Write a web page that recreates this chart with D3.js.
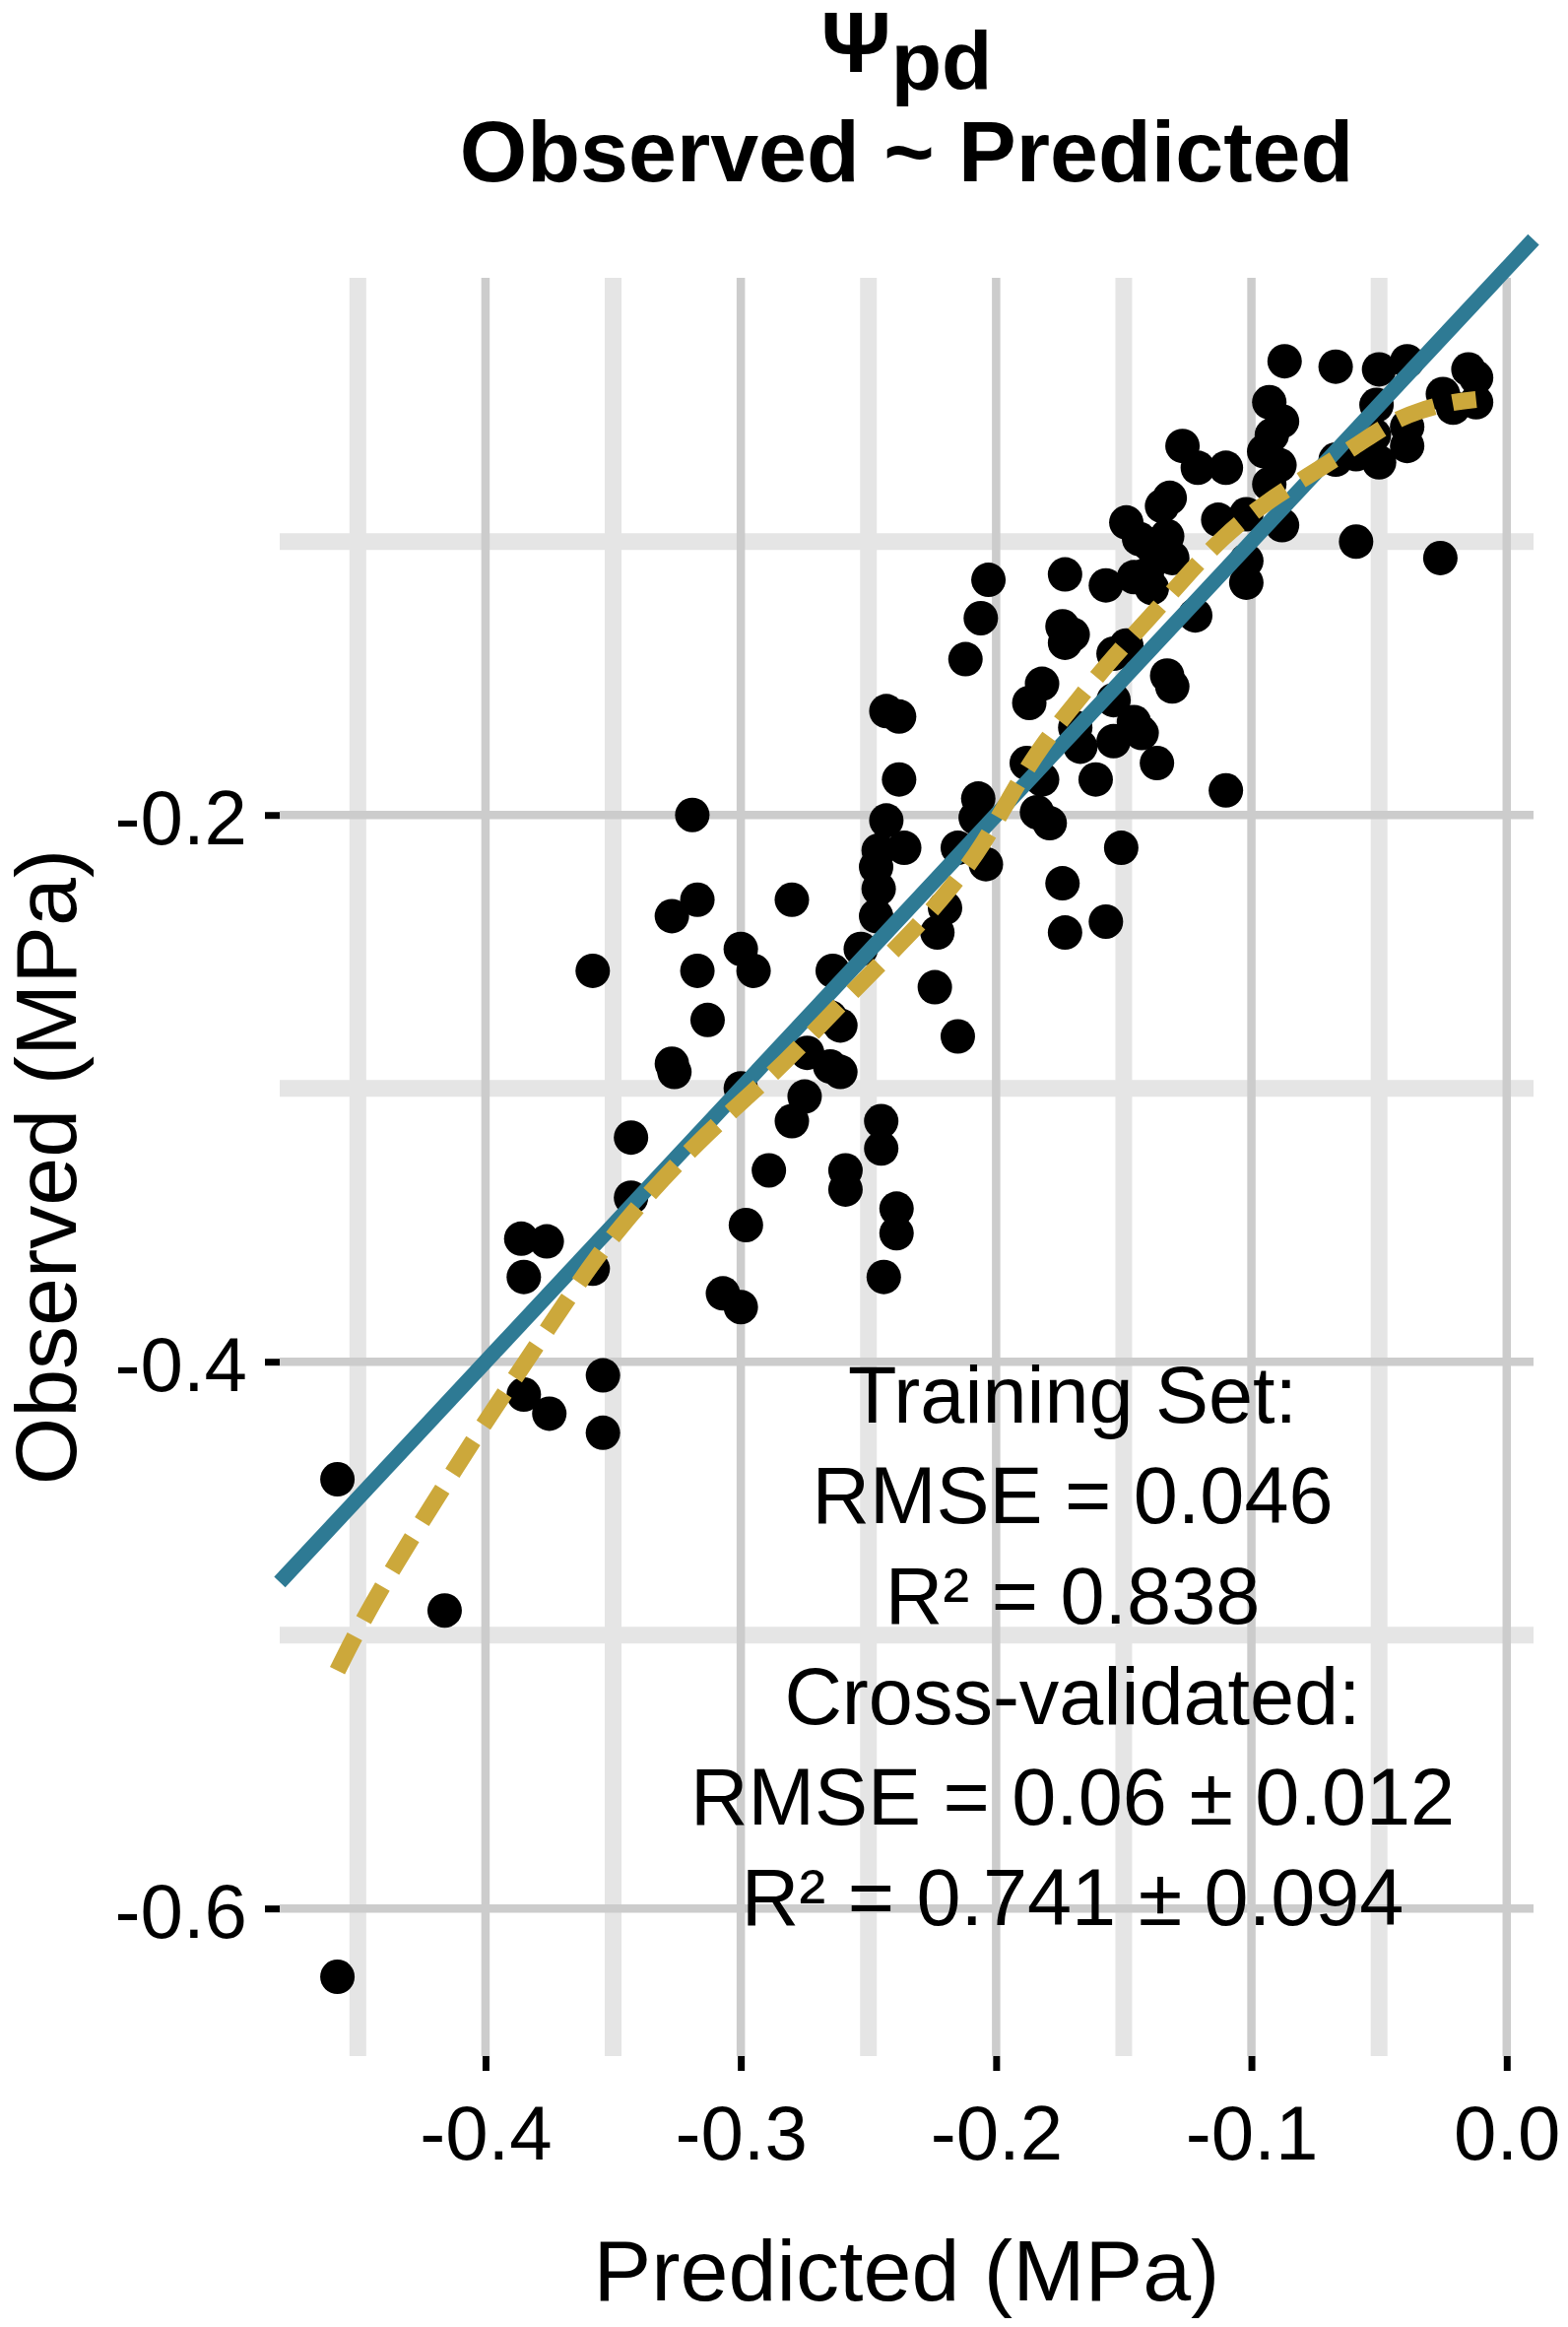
<!DOCTYPE html>
<html>
<head>
<meta charset="utf-8">
<script src="https://cdn.jsdelivr.net/npm/d3@7"></script>
<style>
body { margin: 0; background: #fff; }
text { font-family: "Liberation Sans", Arial, Helvetica, sans-serif; }
</style>
</head>
<body>
<script>
// Observed vs predicted pre-dawn water potential (MPa)
const predicted = [
  -0.087, -0.067, -0.050, -0.039, -0.015, -0.012, -0.025, -0.021, -0.012, -0.093,
  -0.088, -0.051, -0.039, -0.039, -0.050, -0.067, -0.059, -0.052, -0.092, -0.095,
  -0.089, -0.093, -0.127, -0.121, -0.110, -0.132, -0.135, -0.149, -0.144, -0.133,
  -0.137, -0.141, -0.140, -0.131, -0.113, -0.102, -0.088, -0.059, -0.026, -0.102,
  -0.102, -0.203, -0.206, -0.212, -0.173, -0.157, -0.146, -0.139, -0.174, -0.170,
  -0.173, -0.154, -0.149, -0.133, -0.131, -0.122, -0.182, -0.187, -0.154, -0.146,
  -0.143, -0.154, -0.169, -0.167, -0.188, -0.182, -0.161, -0.137, -0.110, -0.207,
  -0.208, -0.184, -0.179, -0.215, -0.204, -0.151, -0.174, -0.173, -0.157, -0.220,
  -0.223,
  -0.243, -0.238, -0.238, -0.243, -0.236, -0.246, -0.247, -0.246, -0.247, -0.253,
  -0.319, -0.317, -0.327, -0.280, -0.300, -0.224, -0.215,
  -0.358, -0.317, -0.295, -0.264, -0.313, -0.327, -0.326, -0.300, -0.274, -0.265,
  -0.261, -0.265, -0.261, -0.275, -0.280, -0.245, -0.245, -0.343, -0.289, -0.259,
  -0.259, -0.343, -0.239, -0.239, -0.298, -0.386, -0.376, -0.385, -0.358, -0.244,
  -0.307, -0.300, -0.354, -0.385, -0.375, -0.354, -0.458, -0.416, -0.458
];
const observed = [
  -0.034, -0.036, -0.037, -0.034, -0.037, -0.040, -0.046, -0.051, -0.049, -0.049,
  -0.056, -0.050, -0.058, -0.065, -0.071, -0.070, -0.068, -0.061, -0.061, -0.067,
  -0.072, -0.079, -0.065, -0.073, -0.073, -0.084, -0.087, -0.093, -0.099, -0.098,
  -0.106, -0.112, -0.101, -0.106, -0.092, -0.090, -0.094, -0.100, -0.106, -0.107,
  -0.115, -0.114, -0.128, -0.143, -0.112, -0.116, -0.113, -0.117, -0.131, -0.134,
  -0.137, -0.141, -0.138, -0.149, -0.153, -0.127, -0.152, -0.159, -0.158, -0.166,
  -0.170, -0.173, -0.168, -0.175, -0.181, -0.187, -0.187, -0.181, -0.191, -0.194,
  -0.201, -0.199, -0.203, -0.212, -0.218, -0.212, -0.225, -0.243, -0.239, -0.234,
  -0.243,
  -0.162, -0.164, -0.187, -0.202, -0.212, -0.213, -0.219, -0.227, -0.237, -0.249,
  -0.200, -0.231, -0.237, -0.231, -0.249, -0.263, -0.281,
  -0.257, -0.257, -0.257, -0.257, -0.275, -0.291, -0.294, -0.300, -0.287, -0.292,
  -0.294, -0.274, -0.277, -0.303, -0.312, -0.312, -0.322, -0.318, -0.330, -0.330,
  -0.337, -0.340, -0.344, -0.353, -0.350, -0.355, -0.356, -0.369, -0.366, -0.369,
  -0.375, -0.380, -0.405, -0.412, -0.419, -0.426, -0.443, -0.491, -0.625
];

// smoothed fit (dashed gold)
const smoothX = [-0.458, -0.443, -0.401, -0.387, -0.365, -0.349, -0.317, -0.286, -0.264, -0.246,
  -0.231, -0.217, -0.205, -0.192, -0.181, -0.168, -0.154, -0.140, -0.126, -0.111,
  -0.095, -0.078, -0.059, -0.045, -0.034, -0.022, -0.012];
const smoothY = [-0.513, -0.485, -0.423, -0.404, -0.373, -0.352, -0.319, -0.294, -0.272, -0.255,
  -0.241, -0.226, -0.211, -0.189, -0.173, -0.158, -0.142, -0.128, -0.113, -0.098,
  -0.086, -0.076, -0.065, -0.056, -0.052, -0.049, -0.048];

const xTicks = [-0.4, -0.3, -0.2, -0.1, 0.0];
const xMinor = [-0.45, -0.35, -0.25, -0.15, -0.05];
const yTicks = [-0.6, -0.4, -0.2];
const yMinor = [-0.5, -0.3, -0.1];

const statLines = ["Training Set:", "RMSE = 0.046", "R\u00B2 = 0.838",
  "Cross-validated:", "RMSE = 0.06 \u00B1 0.012", "R\u00B2 = 0.741 \u00B1 0.094"];

const w = 1592;
const h = 2362;
const pLeft = 284, pRight = 1557, pTop = 282, pBottom = 2087;

var x = d3.scaleLinear().domain([-0.4806, 0.0105]).range([pLeft, pRight]);
var y = d3.scaleLinear().domain([-0.654, -0.0035]).range([pBottom, pTop]);

var svg = d3.select("body")
    .append("svg")
    .attr("width", w)
    .attr("height", h);

svg.append("rect").attr("width", w).attr("height", h).attr("fill", "#fff");

// grid: minor first (wide, light), then major
var grid = svg.append("g");
grid.selectAll(".vminor").data(xMinor).enter().append("line")
    .attr("x1", d => x(d)).attr("x2", d => x(d))
    .attr("y1", pTop).attr("y2", pBottom)
    .attr("stroke", "#e5e5e5").attr("stroke-width", 17);
grid.selectAll(".hminor").data(yMinor).enter().append("line")
    .attr("x1", pLeft).attr("x2", pRight)
    .attr("y1", d => y(d)).attr("y2", d => y(d))
    .attr("stroke", "#e5e5e5").attr("stroke-width", 17);
grid.selectAll(".vmajor").data(xTicks).enter().append("line")
    .attr("x1", d => x(d)).attr("x2", d => x(d))
    .attr("y1", pTop).attr("y2", pBottom)
    .attr("stroke", "#cccccc").attr("stroke-width", 8.5);
grid.selectAll(".hmajor").data(yTicks).enter().append("line")
    .attr("x1", pLeft).attr("x2", pRight)
    .attr("y1", d => y(d)).attr("y2", d => y(d))
    .attr("stroke", "#cccccc").attr("stroke-width", 8.5);

// points
svg.append("g").selectAll("circle")
    .data(predicted)
    .enter()
    .append("circle")
    .attr("cx", d => x(d))
    .attr("cy", (d, i) => y(observed[i]))
    .attr("r", 17.5)
    .attr("fill", "#000");

// 1:1 line (not clipped to the panel)
var dom = x.domain();
svg.append("path")
    .datum(dom)
    .attr("d", d3.line().x(d => x(d)).y(d => y(d)))
    .attr("fill", "none")
    .attr("stroke", "#2e7a94")
    .attr("stroke-width", 15.5);

// dashed smooth
svg.append("path")
    .datum(smoothX.map((v, i) => [v, smoothY[i]]))
    .attr("d", d3.line().x(d => x(d[0])).y(d => y(d[1])).curve(d3.curveBasis))
    .attr("fill", "none")
    .attr("stroke", "#cca83b")
    .attr("stroke-width", 17)
    .attr("stroke-dasharray", "39,19");

// axes
var fmt = d => Math.abs(d) < 1e-9 ? "0.0" : d.toFixed(1);

var xAxis = svg.append("g")
    .attr("transform", "translate(0," + pBottom + ")")
    .call(d3.axisBottom(x).tickValues(xTicks).tickSize(15).tickPadding(35).tickFormat(fmt));
var yAxis = svg.append("g")
    .attr("transform", "translate(" + pLeft + ",0)")
    .call(d3.axisLeft(y).tickValues(yTicks).tickSize(15).tickPadding(18).tickFormat(fmt));

[xAxis, yAxis].forEach(a => {
    a.select(".domain").remove();
    a.selectAll(".tick line").attr("stroke", "#000").attr("stroke-width", 7);
    a.selectAll(".tick text")
        .attr("fill", "#000")
        .attr("font-size", 78)
        .attr("font-family", "'Liberation Sans', Arial, sans-serif");
});
yAxis.selectAll(".tick text").attr("dy", "0.37em");

// axis titles
svg.append("text")
    .attr("x", (pLeft + pRight) / 2)
    .attr("y", 2335)
    .attr("text-anchor", "middle")
    .attr("font-size", 88)
    .text("Predicted (MPa)");

svg.append("text")
    .attr("transform", "translate(77," + (pTop + pBottom) / 2 + ") rotate(-90)")
    .attr("text-anchor", "middle")
    .attr("font-size", 88)
    .text("Observed (MPa)");

// title
var t1 = svg.append("text")
    .attr("x", (pLeft + pRight) / 2)
    .attr("y", 73)
    .attr("text-anchor", "middle")
    .attr("font-weight", "bold")
    .attr("font-size", 88);
t1.append("tspan").text("\u03A8");
t1.append("tspan").attr("dy", 18).attr("font-size", 84).text("pd");

svg.append("text")
    .attr("x", (pLeft + pRight) / 2)
    .attr("y", 184)
    .attr("text-anchor", "middle")
    .attr("font-weight", "bold")
    .attr("font-size", 88)
    .text("Observed ~ Predicted");

// model statistics
svg.append("g").selectAll("text")
    .data(statLines)
    .enter()
    .append("text")
    .attr("x", 1089)
    .attr("y", (d, i) => 1444 + i * 101.9)
    .attr("text-anchor", "middle")
    .attr("font-size", 81)
    .attr("fill", "#000")
    .text(d => d);
</script>
</body>
</html>
